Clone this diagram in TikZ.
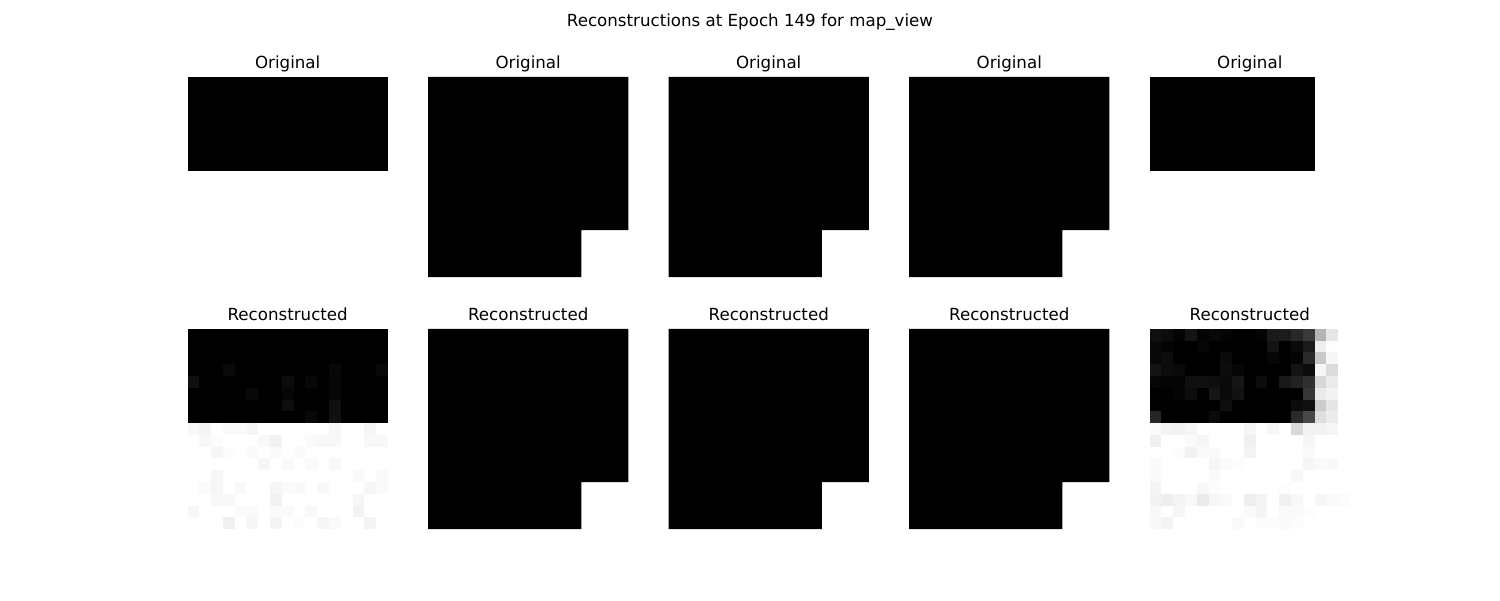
\documentclass[tikz,border=0pt]{standalone}
\usepackage{fontspec}
\setmainfont{DejaVu Sans}
\begin{document}
\begin{tikzpicture}[x=0.72pt,y=-0.72pt,
  lab/.style={font=\fontsize{12}{14}\selectfont, anchor=base, inner sep=0pt},
  pix/.style={line width=0pt}]
\useasboundingbox (0,0) rectangle (1500,600);
\def\S{11.7901}
\def\W{200.431}
\def\Yt{76.784}
\def\Yb{328.784}
% title
\node[lab] (title) at (750,26.7) {Reconstructions at Epoch 149 for map\_view};
% panel labels
\foreach \i/\x in {1/187.5,2/428.017,3/668.534,4/909.052,5/1149.569}{
  \node[lab] (orig\i) at (\x+100.2,68.5) {Original};
  \node[lab] (rec\i) at (\x+100.2,320.5) {Reconstructed};
}
% L-shaped panels 2-4, top and bottom rows
\foreach \x in {428.017,668.534,909.052}{
  \foreach \y in {\Yt,\Yb}{
    \begin{scope}[shift={(\x,\y)}]
      \fill[black] (0,0) -- (\W,0) -- (\W,13*\S) -- (13*\S,13*\S) -- (13*\S,\W) -- (0,\W) -- cycle;
    \end{scope}
  }
}
% panel 1 original
\begin{scope}[shift={(187.5,\Yt)}]
  \fill[black] (0,0) rectangle (\W,8*\S);
\end{scope}
% panel 5 original
\begin{scope}[shift={(1149.569,\Yt)}]
  \fill[black] (0,0) rectangle (14*\S,8*\S);
\end{scope}
% panel 1 reconstruction
\begin{scope}[shift={(187.5,\Yb)}]
  \fill[black] (0,0) rectangle (\W,8*\S);
  \foreach \r/\c/\v in {3/3/10,4/0/16,5/5/8,4/8/12,5/8/6,6/8/14,4/10/8,7/10/8,3/12/8,4/12/6,5/12/6,6/12/16,7/12/16,3/16/8,
    8/0/248,8/1/244,8/3/250,8/4/250,8/5/246,8/12/246,8/15/246,
    9/1/248,9/2/252,9/6/248,9/7/242,9/10/250,9/11/248,9/12/248,9/15/248,9/16/248,
    10/2/246,10/3/252,10/5/250,10/7/250,10/9/250,
    11/6/246,11/8/250,11/10/250,11/12/248,
    12/2/246,12/14/250,12/16/250,
    13/1/250,13/2/246,13/4/248,13/7/246,13/8/250,13/9/248,13/11/248,13/15/246,13/16/250,
    14/2/248,14/3/248,14/7/242,14/14/246,
    15/0/246,15/4/250,15/5/250,15/7/250,15/8/250,15/10/248,15/14/242,
    16/3/240,16/5/246,16/7/244,16/9/252,16/11/246,16/12/250,16/15/244}{
    \definecolor{cc}{RGB}{\v,\v,\v}
    \fill[cc] (\c*\S,\r*\S) rectangle ++(\S,\S);
  }
\end{scope}
% panel 5 reconstruction
\begin{scope}[shift={(1149.569,\Yb)}]
  \fill[black] (0,0) rectangle (14*\S,8*\S);
  \foreach \r/\c/\v in {
    0/0/16,0/1/12,0/2/4,0/3/20,0/4/4,0/5/8,0/6/4,0/9/4,0/10/26,0/11/28,0/12/40,0/13/58,0/14/180,0/15/230,
    1/0/8,1/1/4,1/4/6,1/10/20,1/12/10,1/13/26,1/14/238,1/15/254,
    2/0/8,2/1/12,2/6/10,2/10/6,2/12/4,2/13/42,2/14/200,2/15/246,
    3/0/20,3/1/12,3/2/10,3/6/12,3/7/6,3/12/20,3/13/12,3/14/246,3/15/220,
    4/0/6,4/1/4,4/2/4,4/3/16,4/4/16,4/5/14,4/6/10,4/7/22,4/9/12,4/11/24,4/12/34,4/13/48,4/14/216,4/15/234,
    5/2/4,5/3/12,5/5/22,5/6/10,5/7/18,5/13/54,5/14/234,5/15/242,
    6/6/14,6/12/12,6/13/16,6/14/204,6/15/230,
    7/0/38,7/5/10,7/12/42,7/13/72,7/14/222,7/15/236,
    8/0/250,8/1/244,8/2/242,8/3/246,8/8/246,8/10/246,8/12/216,8/13/242,8/14/242,8/15/246,
    9/0/240,9/3/250,9/4/246,9/8/240,9/13/246,
    10/2/252,10/3/242,10/4/250,10/5/250,10/8/244,10/13/250,
    11/0/250,11/5/246,11/6/250,11/7/252,11/13/246,11/14/250,11/15/248,
    12/0/250,12/5/250,12/12/248,
    13/0/244,13/4/248,13/5/252,13/11/252,
    14/0/242,14/1/238,14/2/244,14/3/248,14/4/234,14/5/246,14/6/250,14/8/238,14/9/244,14/11/240,14/12/248,14/14/246,14/15/250,14/16/252,
    15/0/248,15/2/246,15/8/250,15/9/244,15/11/250,15/12/250,15/13/252,
    16/0/248,16/1/244,16/7/250,16/9/252,16/10/252,16/11/250,16/12/252}{
    \definecolor{cc}{RGB}{\v,\v,\v}
    \fill[cc] (\c*\S,\r*\S) rectangle ++(\S,\S);
  }
\end{scope}
\end{tikzpicture}
\end{document}
